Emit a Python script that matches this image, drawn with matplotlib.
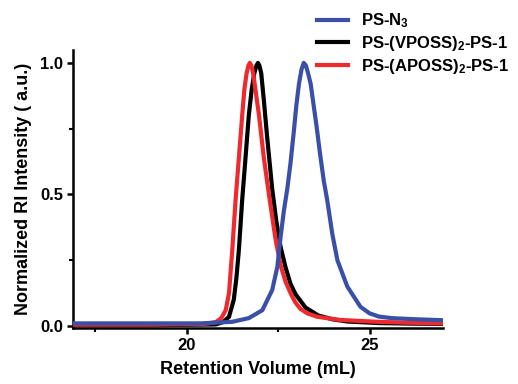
import matplotlib
matplotlib.use("Agg")
import matplotlib.pyplot as plt
from matplotlib.ticker import MultipleLocator

plt.rcParams['font.family'] = ['Liberation Sans', 'DejaVu Sans']
plt.rcParams['font.weight'] = 'bold'
plt.rcParams['mathtext.fontset'] = 'custom'
plt.rcParams['mathtext.rm'] = 'Liberation Sans:bold'
plt.rcParams['mathtext.bf'] = 'Liberation Sans:bold'
plt.rcParams['mathtext.default'] = 'bf'

# ---- data ----
labels = [r'PS-N$_3$', r'PS-(VPOSS)$_2$-PS-1', r'PS-(APOSS)$_2$-PS-1']
colors = ['#3a50a8', '#000000', '#ee2a2e']

blue_x = [16.9, 19.0, 20.4, 21.25, 21.7, 22.07, 22.34, 22.48, 22.57, 22.66, 22.75, 22.84,
          22.93, 23.0, 23.07, 23.14, 23.2, 23.26, 23.32, 23.39, 23.47, 23.55, 23.65,
          23.75, 23.84, 23.98, 24.12, 24.39, 24.75, 25.0, 25.25, 25.6, 26.2, 27.0]
blue_y = [0.01, 0.01, 0.01, 0.016, 0.03, 0.06, 0.137, 0.225, 0.34, 0.44, 0.52, 0.62,
          0.74, 0.84, 0.92, 0.975, 1.0, 0.99, 0.96, 0.92, 0.84, 0.76, 0.65,
          0.55, 0.48, 0.35, 0.25, 0.15, 0.073, 0.048, 0.036, 0.03, 0.026, 0.022]

black_x = [16.9, 19.0, 20.8, 21.0, 21.16, 21.29, 21.36, 21.43, 21.52, 21.6, 21.7, 21.78,
           21.85, 21.91, 21.95, 21.99, 22.04, 22.11, 22.2, 22.34, 22.45, 22.57, 22.7,
           22.84, 22.98, 23.25, 23.6, 24.0, 24.4, 25.3, 26.2, 27.0]
black_y = [0.003, 0.003, 0.006, 0.015, 0.035, 0.10, 0.18, 0.29, 0.48, 0.62, 0.80, 0.90,
           0.96, 0.99, 1.0, 0.99, 0.96, 0.86, 0.72, 0.52, 0.40, 0.30, 0.225,
           0.16, 0.12, 0.07, 0.04, 0.025, 0.017, 0.011, 0.009, 0.008]

red_x = [16.9, 19.0, 20.5, 20.8, 20.95, 21.07, 21.16, 21.25, 21.34, 21.43, 21.52, 21.58,
         21.64, 21.69, 21.73, 21.77, 21.82, 21.9, 21.98, 22.11, 22.25, 22.43, 22.57,
         22.7, 22.84, 22.97, 23.11, 23.3, 23.57, 24.2, 25.2, 26.2, 27.0]
red_y = [0.005, 0.005, 0.008, 0.015, 0.03, 0.06, 0.125, 0.29, 0.48, 0.64, 0.80, 0.90,
         0.96, 0.99, 1.0, 0.99, 0.96, 0.88, 0.80, 0.64, 0.50, 0.33, 0.23,
         0.17, 0.125, 0.09, 0.065, 0.048, 0.035, 0.023, 0.016, 0.012, 0.01]

xticks = [20, 25]
yticks = [0.0, 0.5, 1.0]
ytick_labels = ['0.0', '0.5', '1.0']

fig = plt.figure(figsize=(5.18, 3.84), dpi=100)
ax = fig.add_axes([0.1409, 0.1458, 0.855 - 0.1409, 0.8698 - 0.1458])

lb, = ax.plot(black_x, black_y, color=colors[1], lw=3, solid_joinstyle='round', zorder=2)
lr, = ax.plot(red_x, red_y, color=colors[2], lw=3, solid_joinstyle='round', zorder=3)
lbl, = ax.plot(blue_x, blue_y, color=colors[0], lw=3, solid_joinstyle='round', zorder=4)

ax.set_xlim(16.9, 27.0)
ax.set_ylim(-0.0076, 1.049)
ax.set_xticks(xticks)
ax.set_yticks(yticks)
ax.set_yticklabels(ytick_labels)
ax.xaxis.set_minor_locator(MultipleLocator(2.5))
ax.yaxis.set_minor_locator(MultipleLocator(0.25))

for s in ['top', 'right']:
    ax.spines[s].set_visible(False)
for s in ['left', 'bottom']:
    ax.spines[s].set_linewidth(1.8)
ax.tick_params(which='major', direction='out', length=4, width=1.8, labelsize=12, pad=3)
ax.tick_params(which='minor', direction='out', length=3, width=1.5)
for t in ax.get_xticklabels() + ax.get_yticklabels():
    t.set_fontweight('bold')

ax.set_xlabel('Retention Volume (mL)', fontsize=13, fontweight='bold', labelpad=6)
ax.set_ylabel('Normalized RI Intensity ( a.u.)', fontsize=13, fontweight='bold', labelpad=6)

fig.legend([lbl, lb, lr], labels, loc='upper left', bbox_to_anchor=(0.612, 0.97),
           frameon=False, handlelength=1.86, handletextpad=0.8,
           borderpad=0, borderaxespad=0, labelspacing=0.22,
           prop={'weight': 'bold', 'size': 12})

fig.savefig('out.png', dpi=100)
